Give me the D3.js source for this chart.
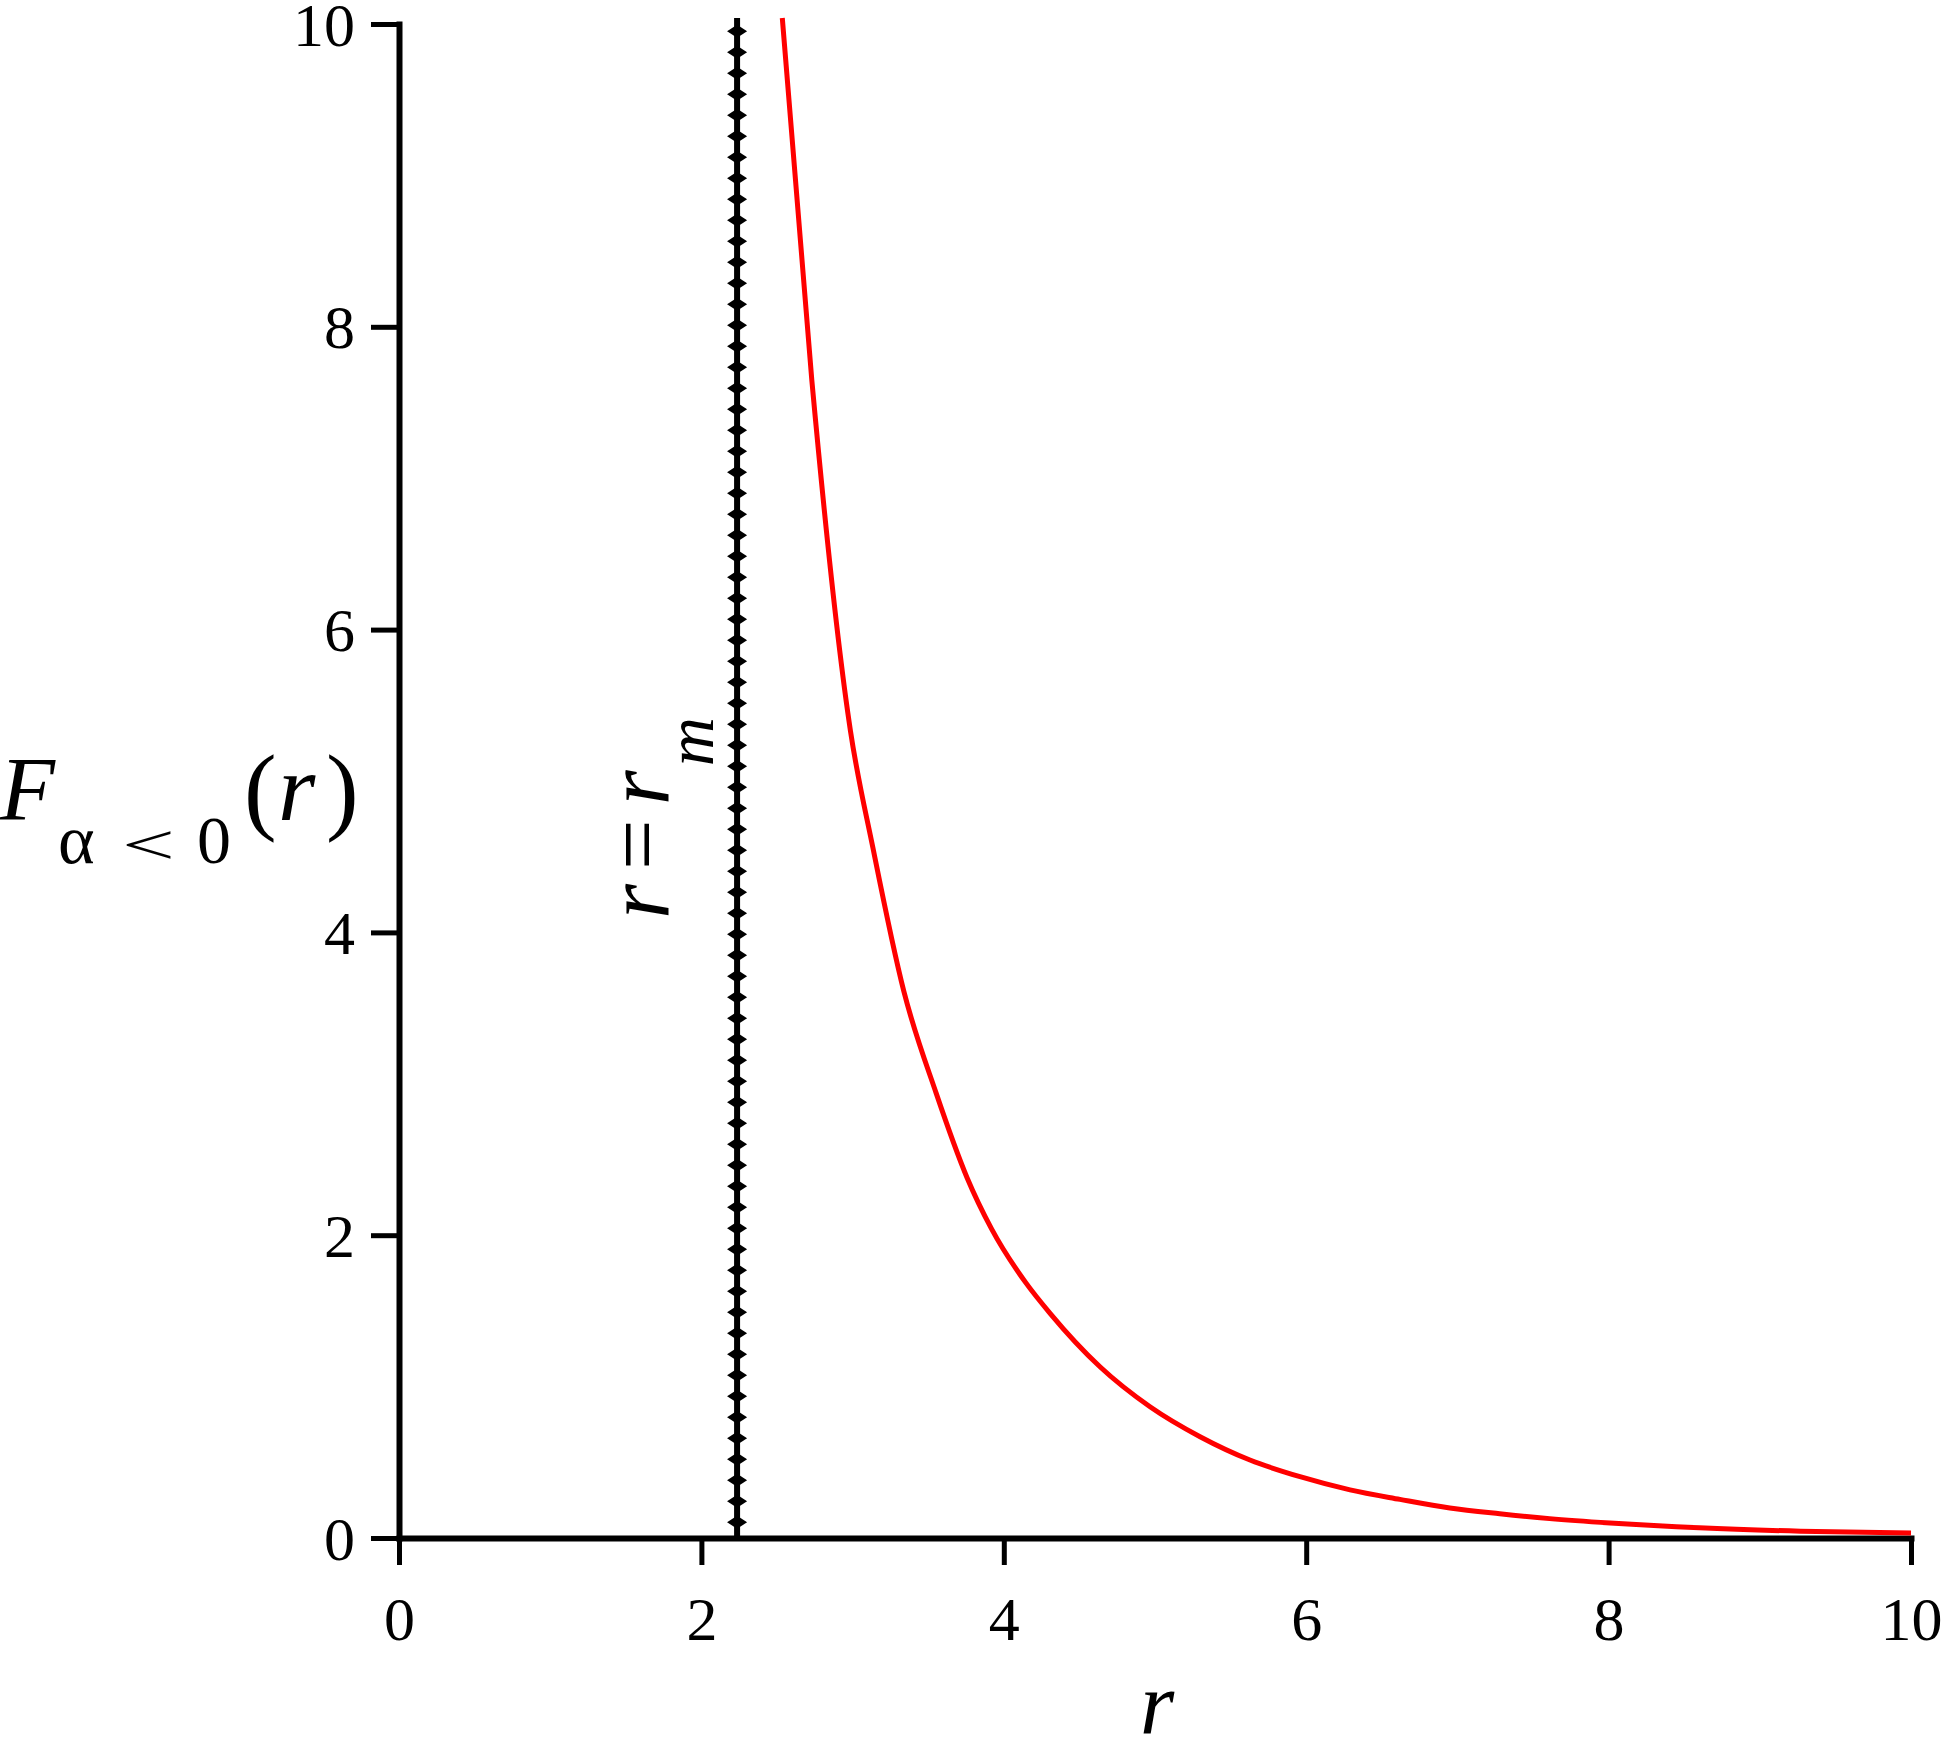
<!DOCTYPE html>
<html>
<head>
<meta charset="utf-8">
<script src="https://cdn.jsdelivr.net/npm/d3@7"></script>
<style>
  body { margin: 0; background: #fff; }
</style>
</head>
<body>
<div id="canvas"></div>
<script>
// --- data
var rValues = [2.535, 2.73, 2.986, 3.134, 3.339, 3.552, 3.757, 3.92, 4.15, 4.306, 4.636, 4.967, 5.298, 5.628, 5.959, 6.29, 6.62, 6.95, 7.28, 7.61, 8.01, 8.6, 9.27, 10];
var fValues = [10.04, 7.65, 5.33, 4.56, 3.61, 2.94, 2.38, 2.04, 1.68, 1.484, 1.131, 0.867, 0.669, 0.515, 0.405, 0.318, 0.255, 0.198, 0.16, 0.128, 0.099, 0.067, 0.045, 0.033];
var rm = 2.236;          // r = r_m line
var rmTop = 10.04;
var xTicks = [0, 2, 4, 6, 8, 10];
var yTicks = [0, 2, 4, 6, 8, 10];

var FONT = '"Liberation Serif"';

// --- margin convention
var W = 1944, H = 1744;
var M = {top:24, right:33, bottom:206, left:399};
var w = W - M.left - M.right,
    h = H - M.top - M.bottom;

var svg = d3.select('#canvas')
  .append('svg')
  .attr('width', W)
  .attr('height', H)
  .style('font-family', FONT);

var plot = svg.append('g')
  .attr('transform', 'translate(' + M.left + ',' + M.top + ')');

var x = d3.scaleLinear().domain([0, 10]).range([0, w]);
var y = d3.scaleLinear().domain([0, 10]).range([h, 0]);

// --- axes
var xAxis = d3.axisBottom(x).tickValues(xTicks).tickSize(27).tickSizeOuter(0).tickPadding(31);
var yAxis = d3.axisLeft(y).tickValues(yTicks).tickSize(28).tickSizeOuter(0).tickPadding(16);

var gx = plot.append('g').attr('transform', 'translate(0,' + h + ')').call(xAxis);
var gy = plot.append('g').call(yAxis);

[gx, gy].forEach(function(g){
  g.attr('font-family', null).attr('font-size', null);
  g.select('.domain').attr('stroke', '#000').attr('stroke-width', 6).attr('stroke-linecap', 'square');
  g.selectAll('.tick line').attr('stroke', '#000').attr('stroke-width', 5);
  g.selectAll('.tick text').attr('fill', '#000')
    .style('font-family', FONT).attr('font-size', '62px');
});
gy.selectAll('.tick text').attr('dy', '0.34em');

// --- r = r_m line with diamond markers
plot.append('line')
  .attr('x1', x(rm)).attr('x2', x(rm))
  .attr('y1', y(0)).attr('y2', y(rmTop))
  .attr('stroke', '#000').attr('stroke-width', 6);

var markF = d3.range(72).map(function(k){ return 0.104 + k * 0.1387; });
plot.selectAll('path.mark')
  .data(markF)
  .enter()
  .append('path')
  .attr('class', 'mark')
  .attr('d', 'M-10,0L0,-6.5L10,0L0,6.5Z')
  .attr('transform', function(d){ return 'translate(' + x(rm) + ',' + y(d) + ')'; })
  .attr('fill', '#000');

// --- red curve
var pts = rValues.map(function(r, i){ return [r, fValues[i]]; });
var line = d3.line()
  .x(function(d){ return x(d[0]); })
  .y(function(d){ return y(d[1]); })
  .curve(d3.curveMonotoneX);

plot.append('path')
  .attr('d', line(pts))
  .attr('fill', 'none')
  .attr('stroke', '#ff0000')
  .attr('stroke-width', 5);

// --- labels
svg.append('text')
  .attr('x', 1157).attr('y', 1733)
  .attr('text-anchor', 'middle')
  .style('font-family', FONT)
  .attr('font-size', '88px')
  .attr('font-style', 'italic')
  .text('r');

// y title: F_{α<0}(r)
var yTitle = [
  {t:'F', x:0,   y:820, s:90, it:true,  sy:1},
  {t:'α', x:58,  y:863, s:70, it:false, sy:1},
  {t:'<', x:122, y:864, s:94, it:false, sy:0.6},
  {t:'0', x:197, y:863, s:68, it:false, sy:1},
  {t:'(', x:244, y:822, s:98, it:false, sy:1},
  {t:'r', x:278, y:820, s:96, it:true,  sy:1},
  {t:')', x:326, y:822, s:98, it:false, sy:1}
];
svg.selectAll('text.ytitle')
  .data(yTitle)
  .enter()
  .append('text')
  .attr('class', 'ytitle')
  .attr('transform', function(d){ return 'translate(' + d.x + ',' + d.y + ') scale(1,' + d.sy + ')'; })
  .style('font-family', FONT)
  .attr('font-size', function(d){ return d.s + 'px'; })
  .attr('font-style', function(d){ return d.it ? 'italic' : 'normal'; })
  .text(function(d){ return d.t; });

// r = r_m label, rotated
var rmLab = svg.append('text')
  .attr('transform', 'translate(668,919) rotate(-90)')
  .style('font-family', FONT)
  .attr('font-size', '90px');
rmLab.append('tspan').attr('font-style', 'italic').text('r');
rmLab.append('tspan').attr('dx', 14).text('=');
rmLab.append('tspan').attr('dx', 14).attr('font-style', 'italic').text('r');
rmLab.append('tspan').attr('dx', 4).attr('font-style', 'italic').attr('font-size', '68px').attr('dy', 45).text('m');
</script>
</body>
</html>
